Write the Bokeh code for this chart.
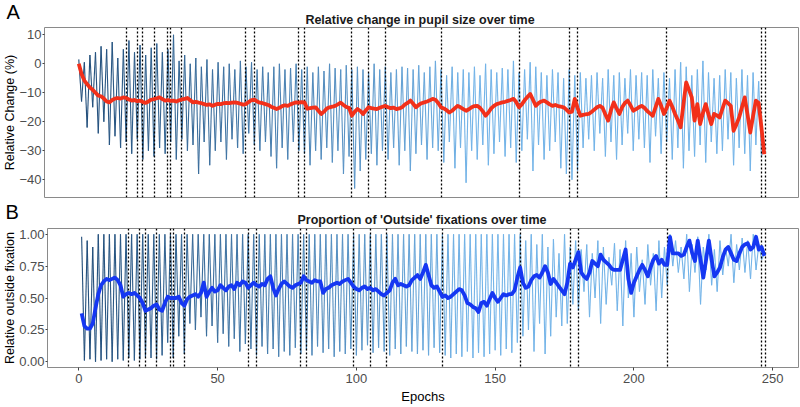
from bokeh.plotting import figure
from bokeh.layouts import column, row
from bokeh.models import Label, Title, FixedTicker, NumeralTickFormatter, ColumnDataSource, Range1d
from bokeh.embed import file_html
from bokeh.resources import INLINE

# ---------------- data ----------------
epochs = list(range(1, 248))
event_epochs = [18, 22, 24, 28, 33, 34, 38, 61, 64, 80, 82, 99, 105, 111,
                131, 159, 177, 180, 212, 246, 247.5]

pupil_mean = [
    0.0, -3.5, -5.8, -7.0, -8.2, -9.0, -10.0, -11.0, -11.2, -12.0,
    -13.0, -13.3, -12.5, -12.0, -11.8, -12.0, -11.6, -11.8, -12.3, -12.7,
    -12.5, -12.9, -12.7, -13.2, -13.5, -13.0, -12.4, -12.2, -11.9, -11.6,
    -12.2, -12.7, -12.5, -12.8, -12.7, -13.0, -12.6, -12.3, -12.1, -11.8,
    -12.6, -13.3, -13.1, -13.4, -13.6, -13.9, -14.2, -14.0, -14.5, -14.1,
    -13.8, -13.9, -13.6, -13.5, -13.6, -13.4, -13.3, -13.5, -13.8, -14.1,
    -13.9, -13.2, -12.5, -12.4, -13.0, -13.4, -13.6, -13.9, -14.2, -14.8,
    -15.2, -15.6, -15.2, -14.6, -14.3, -14.5, -14.0, -13.6, -13.3, -13.4,
    -13.2, -13.3, -15.5, -15.3, -15.1, -15.0, -16.2, -17.3, -16.5, -15.4,
    -15.0, -14.8, -14.5, -14.0, -13.4, -14.2, -14.9, -15.2, -17.9, -16.6,
    -15.6, -16.2, -17.3, -16.1, -15.0, -15.3, -15.5, -15.6, -15.2, -14.8,
    -14.5, -15.0, -15.3, -15.1, -15.6, -15.4, -15.0, -14.1, -13.5, -12.7,
    -13.8, -15.0, -14.2, -13.6, -13.3, -13.0, -12.6, -12.1, -12.4, -13.5,
    -15.0, -15.4, -16.0, -16.8, -16.2, -15.3, -14.5, -15.0, -15.6, -16.2,
    -15.7, -15.0, -14.6, -14.5, -15.2, -16.4, -17.9, -16.8, -15.4, -14.5,
    -13.9, -13.6, -13.3, -13.1, -12.8, -12.5, -12.1, -13.2, -15.0, -14.0,
    -12.6, -11.5, -10.4, -12.4, -14.5, -13.6, -13.0, -12.7, -13.3, -14.0,
    -14.5, -14.2, -14.6, -14.8, -15.0, -15.8, -16.8, -16.5, -12.1, -15.2,
    -17.9, -17.6, -17.4, -17.3, -16.6, -15.8, -15.0, -14.5, -15.2, -17.5,
    -19.6, -16.0, -13.3, -15.4, -17.3, -15.0, -13.5, -12.7, -14.3, -16.2,
    -15.6, -15.0, -14.5, -15.2, -16.3, -17.1, -17.9, -15.0, -12.1, -14.5,
    -17.3, -15.2, -12.7, -14.8, -17.3, -19.5, -21.9, -14.0, -6.4, -9.0,
    -11.6, -19.6, -13.9, -20.8, -17.0, -13.9, -17.5, -20.8, -17.3, -17.8,
    -18.5, -15.5, -12.7, -13.6, -14.5, -23.1, -21.0, -18.5, -15.0, -11.6,
    -17.5, -23.7, -18.0, -12.7, -13.5, -22.0, -31.2,
]

pupil_trace = [
    1.5, -13.0, 0.5, -22.0, 3.0, -15.0, 4.0, -24.0, 6.0, -20.0,
    5.0, -28.0, 7.5, -25.0, 2.0, -29.0, 5.0, -27.0, 8.0, -31.0,
    4.0, -26.0, 6.5, -33.0, 3.0, -30.0, 5.5, -32.0, 7.0, -29.0,
    4.0, -31.0, 5.0, -27.0, 10.0, -33.0, 1.0, -26.0, 3.0, -30.0,
    0.0, -28.0, 2.0, -38.0, -1.0, -27.0, 1.5, -35.0, -2.0, -30.0,
    0.5, -27.0, -1.0, -33.0, 0.0, -26.0, -2.0, -29.0, 1.0, -31.0,
    -1.0, -24.0, 0.5, -28.0, -2.0, -30.0, -1.0, -27.0, -3.0, -32.0,
    -1.0, -36.0, 0.0, -29.0, -2.0, -33.0, -1.5, -27.0, 0.0, -30.0,
    -2.0, -31.0, -1.0, -35.0, -3.0, -30.0, -1.0, -33.0, -2.5, -29.0,
    0.0, -34.0, -1.5, -30.0, -2.0, -38.0, -0.5, -32.0, -2.0, -43.0,
    -1.0, -37.0, -2.0, -33.0, -3.0, -31.0, 0.0, -35.0, -2.0, -30.0,
    -1.0, -33.0, -3.0, -29.0, -2.0, -35.0, -1.0, -30.0, -1.5, -37.0,
    -2.0, -31.0, -0.5, -28.0, -3.0, -33.0, -1.0, -29.0, 1.0, -30.0,
    -2.0, -34.0, -4.0, -27.0, -1.0, -36.0, -3.0, -29.0, -2.0, -41.0,
    -3.0, -30.0, -1.0, -33.0, -4.0, -28.0, 0.0, -35.0, -2.0, -31.0,
    -3.0, -27.0, -1.5, -32.0, -2.0, -29.0, 1.0, -34.0, -3.0, -30.0,
    -2.0, -26.0, 0.5, -37.0, -1.0, -28.0, -3.0, -33.0, -4.0, -30.0,
    -2.0, -27.0, -3.0, -36.0, -5.0, -38.0, -2.0, -40.0, -4.0, -37.0,
    -3.0, -29.0, -5.0, -26.0, -4.0, -30.0, -3.0, -24.0, -5.0, -32.0,
    -2.0, -27.0, -4.0, -33.0, -3.0, -28.0, -5.0, -24.0, -2.0, -30.0,
    -4.0, -26.0, -3.0, -29.0, -4.0, -34.0, -2.0, -25.0, -5.0, -31.0,
    -3.0, -27.0, -5.0, -33.0, -2.0, -29.0, 0.5, -36.0, -1.0, -30.0,
    -4.0, -32.0, -2.0, -28.0, 1.0, -34.0, -3.0, -27.0, -5.0, -31.0,
    -4.0, -30.0, -2.0, -26.0, -3.0, -35.0, -5.0, -29.0, -2.0, -31.0,
    -4.0, -37.0, -3.0, -28.0, -6.0, -32.0, -28.0,
]

outside_mean = [
    0.38, 0.28, 0.26, 0.26, 0.30, 0.42, 0.53, 0.60, 0.63, 0.65,
    0.64, 0.65, 0.66, 0.64, 0.60, 0.51, 0.53, 0.54, 0.53, 0.54,
    0.52, 0.50, 0.46, 0.40, 0.41, 0.42, 0.44, 0.45, 0.41, 0.40,
    0.46, 0.51, 0.50, 0.50, 0.50, 0.51, 0.46, 0.44, 0.49, 0.51,
    0.52, 0.53, 0.51, 0.54, 0.62, 0.51, 0.55, 0.58, 0.55, 0.56,
    0.60, 0.58, 0.56, 0.59, 0.60, 0.57, 0.62, 0.60, 0.63, 0.62,
    0.58, 0.60, 0.62, 0.60, 0.59, 0.61, 0.60, 0.65, 0.67, 0.58,
    0.52, 0.57, 0.61, 0.63, 0.61, 0.59, 0.58, 0.60, 0.61, 0.62,
    0.67, 0.64, 0.63, 0.62, 0.64, 0.63, 0.63, 0.54, 0.57, 0.58,
    0.60, 0.61, 0.62, 0.61, 0.63, 0.64, 0.65, 0.62, 0.59, 0.57,
    0.56, 0.58, 0.59, 0.57, 0.58, 0.56, 0.57, 0.55, 0.53, 0.52,
    0.54, 0.56, 0.62, 0.65, 0.60, 0.61, 0.60, 0.59, 0.60, 0.64,
    0.66, 0.68, 0.65, 0.70, 0.76, 0.68, 0.60, 0.58, 0.59, 0.55,
    0.51, 0.52, 0.50, 0.51, 0.53, 0.55, 0.57, 0.56, 0.52, 0.46,
    0.45, 0.43, 0.42, 0.39, 0.46, 0.47, 0.44, 0.49, 0.54, 0.50,
    0.47, 0.50, 0.53, 0.52, 0.53, 0.53, 0.56, 0.66, 0.74, 0.62,
    0.58, 0.59, 0.64, 0.67, 0.68, 0.66, 0.70, 0.75, 0.70, 0.61,
    0.65, 0.62, 0.59, 0.56, 0.53, 0.62, 0.77, 0.74, 0.80, 0.86,
    0.70, 0.67, 0.65, 0.70, 0.79, 0.77, 0.75, 0.84, 0.80, 0.78,
    0.76, 0.73, 0.72, 0.72, 0.72, 0.80, 0.88, 0.65, 0.54, 0.62,
    0.67, 0.72, 0.76, 0.72, 0.67, 0.74, 0.80, 0.83, 0.77, 0.80,
    0.76, 0.76, 0.98, 0.85, 0.85, 0.85, 0.83, 0.84, 0.90, 0.95,
    0.85, 0.79, 0.95, 0.80, 0.66, 0.80, 0.95, 0.80, 0.67, 0.70,
    0.74, 0.82, 0.88, 0.90, 0.85, 0.80, 0.79, 0.85, 0.90, 0.92,
    0.93, 0.88, 0.90, 0.98, 0.88, 0.90, 0.83,
]

outside_trace = [
    0.98, 0.01, 0.95, 0.02, 0.90, 0.00, 1.00, 0.01, 1.00, 0.02,
    1.00, 0.00, 1.00, 0.02, 1.00, 0.01, 1.00, 0.03, 1.00, 0.01,
    1.00, 0.02, 1.00, 0.04, 1.00, 0.03, 1.00, 0.02, 1.00, 0.05,
    1.00, 0.15, 1.00, 0.03, 1.00, 0.20, 1.00, 0.06, 1.00, 0.30,
    1.00, 0.25, 1.00, 0.35, 1.00, 0.20, 1.00, 0.28, 1.00, 0.15,
    1.00, 0.22, 1.00, 0.12, 1.00, 0.18, 1.00, 0.08, 1.00, 0.14,
    1.00, 0.10, 1.00, 0.05, 1.00, 0.12, 1.00, 0.06, 1.00, 0.10,
    1.00, 0.04, 1.00, 0.08, 1.00, 0.05, 1.00, 0.11, 1.00, 0.06,
    1.00, 0.09, 1.00, 0.05, 1.00, 0.12, 1.00, 0.07, 1.00, 0.10,
    1.00, 0.04, 1.00, 0.08, 1.00, 0.06, 1.00, 0.10, 1.00, 0.05,
    1.00, 0.09, 1.00, 0.13, 1.00, 0.07, 1.00, 0.11, 1.00, 0.08,
    1.00, 0.05, 1.00, 0.10, 1.00, 0.06, 1.00, 0.12, 1.00, 0.08,
    1.00, 0.06, 1.00, 0.09, 1.00, 0.05, 1.00, 0.11, 1.00, 0.07,
    1.00, 0.05, 1.00, 0.03, 1.00, 0.06, 1.00, 0.04, 1.00, 0.08,
    1.00, 0.03, 1.00, 0.07, 1.00, 0.04, 1.00, 0.06, 1.00, 0.09,
    1.00, 0.05, 1.00, 0.10, 1.00, 0.07, 1.00, 0.15, 1.00, 0.20,
    0.95, 0.25, 1.00, 0.08, 0.92, 0.30, 1.00, 0.06, 0.90, 0.20,
    0.96, 0.35, 0.85, 0.28, 1.00, 0.30, 0.90, 0.45, 0.95, 0.40,
    0.88, 0.55, 0.92, 0.35, 0.85, 0.50, 0.95, 0.30, 0.90, 0.45,
    0.82, 0.60, 0.93, 0.40, 0.88, 0.28, 0.95, 0.50, 0.85, 0.35,
    0.90, 0.55, 0.80, 0.45, 0.92, 0.60, 0.85, 0.40, 0.95, 0.50,
    0.90, 0.60, 1.00, 0.75, 0.95, 0.70, 0.90, 0.65, 1.00, 0.55,
    0.92, 0.70, 0.98, 0.45, 0.90, 0.72, 1.00, 0.60, 0.88, 0.55,
    0.95, 0.68, 0.90, 0.75, 1.00, 0.62, 0.92, 0.72, 0.97, 0.70,
    0.95, 0.65, 1.00, 0.72, 0.92, 0.80, 0.85,
]

pupil_ticks = [-40, -30, -20, -10, 0, 10]
outside_ticks = [0.0, 0.25, 0.5, 0.75, 1.0]
epoch_ticks = [0, 50, 100, 150, 200, 250]

titles = ["Relative change in pupil size over time",
          "Proportion of 'Outside' fixations over time"]
y_labels = ["Relative Change (%)", "Relative outside fixation"]
x_label = "Epochs"
panel_tags = ["A", "B"]

# ---------------- style helpers ----------------
FONT = "Liberation Sans"
DARK = (0x22, 0x4E, 0x7A)
LIGHT = (0x74, 0xB4, 0xE8)
W = 800


def shade(e):
    t = min(1.0, (e - 1) / 140.0)
    c = [round(DARK[i] + (LIGHT[i] - DARK[i]) * t) for i in range(3)]
    return "#%02x%02x%02x" % tuple(c)


def trace_source(values):
    return ColumnDataSource(dict(
        x0=epochs[:-1], x1=epochs[1:], y0=values[:-1], y1=values[1:],
        c=[shade(e) for e in epochs[:-1]]))


def header(height, tag, tag_x, tag_top, title, title_x, title_base):
    """A text-only strip whose frame is the whole canvas."""
    h = figure(width=W, height=height, x_range=Range1d(0, W), y_range=Range1d(height, 0),
               output_backend="svg", toolbar_location=None, title=None,
               x_axis_type=None, y_axis_type=None,
               min_border_left=0, min_border_right=0, min_border_top=0, min_border_bottom=0)
    h.outline_line_color = None
    h.background_fill_color = "white"
    h.border_fill_color = "white"
    h.xgrid.visible = False
    h.ygrid.visible = False
    h.add_layout(Label(x=tag_x, y=tag_top, text=tag, text_align="left",
                       text_baseline="top", text_font=FONT, text_font_size="20px",
                       text_color="black"))
    h.add_layout(Label(x=title_x, y=title_base, text=title, text_align="center",
                       text_baseline="alphabetic", text_font=FONT, text_font_size="12.5px",
                       text_font_style="bold", text_color="#1a1a1a"))
    return h


def style_axis(ax, ticks, tick_out, standoff):
    ax.ticker = FixedTicker(ticks=ticks)
    ax.axis_line_color = None
    ax.major_tick_in = 0
    ax.major_tick_out = tick_out
    ax.major_tick_line_color = "#444444"
    ax.minor_tick_line_color = None
    ax.major_label_standoff = standoff
    ax.major_label_text_font = FONT
    ax.major_label_text_font_size = "13px"
    ax.major_label_text_color = "#4d4d4d"


def style_plot(p, ylabel):
    p.background_fill_color = "white"
    p.border_fill_color = "white"
    p.outline_line_color = "#8a8a8a"
    p.outline_line_width = 1
    p.xgrid.visible = False
    p.ygrid.visible = False
    p.add_layout(Title(text=ylabel, align="center", standoff=0, text_font=FONT,
                       text_font_size="12.5px", text_font_style="normal",
                       text_color="black"), "left")


XR = (-11.3, 259.3)

# ---------------- panel A ----------------
hA = header(27, panel_tags[0], 6, 0.5, titles[0], 419.5, 19.5)
pA = figure(width=W, height=172, x_range=Range1d(*XR), y_range=Range1d(-46.1, 12.5),
            output_backend="svg", toolbar_location=None, title=None, x_axis_type=None,
            min_border_left=41, min_border_right=2, min_border_top=0, min_border_bottom=2)
style_plot(pA, y_labels[0])
style_axis(pA.yaxis[0], pupil_ticks, 2, 1)
pA.segment(x0="x0", y0="y0", x1="x1", y1="y1", line_color="c", line_width=1.1,
           source=trace_source(pupil_trace))
pA.vspan(x=event_epochs, line_color="black", line_width=1.3, line_dash="2 2")
pA.line(epochs, pupil_mean, line_color="#f2301a", line_width=3.8, line_join="round")

# ---------------- panel B ----------------
hB = header(29, panel_tags[1], 5, 1.0, titles[1], 421.5, 20.5)
pB = figure(width=W, height=178, x_range=Range1d(*XR), y_range=Range1d(-0.045, 1.045),
            output_backend="svg", toolbar_location=None, title=None,
            min_border_left=45, min_border_right=2, min_border_top=0, min_border_bottom=37)
style_plot(pB, y_labels[1])
style_axis(pB.yaxis[0], outside_ticks, 2, 1)
pB.yaxis[0].formatter = NumeralTickFormatter(format="0.00")
xa = pB.xaxis[0]
style_axis(xa, epoch_ticks, 3, 3)
xa.axis_label = x_label
xa.axis_label_standoff = 3
xa.axis_label_text_font = FONT
xa.axis_label_text_font_size = "13px"
xa.axis_label_text_font_style = "normal"
xa.axis_label_text_color = "black"
pB.segment(x0="x0", y0="y0", x1="x1", y1="y1", line_color="c", line_width=1.1,
           source=trace_source(outside_trace))
pB.vspan(x=event_epochs, line_color="black", line_width=1.3, line_dash="2 2")
pB.line(epochs, outside_mean, line_color="#1537f2", line_width=3.8, line_join="round")

# each figure in its own row so that Bokeh does not align their frames
layout = column(row(hA), row(pA), row(hB), row(pB), spacing=0)
open("out.html", "w").write(file_html(layout, INLINE))
